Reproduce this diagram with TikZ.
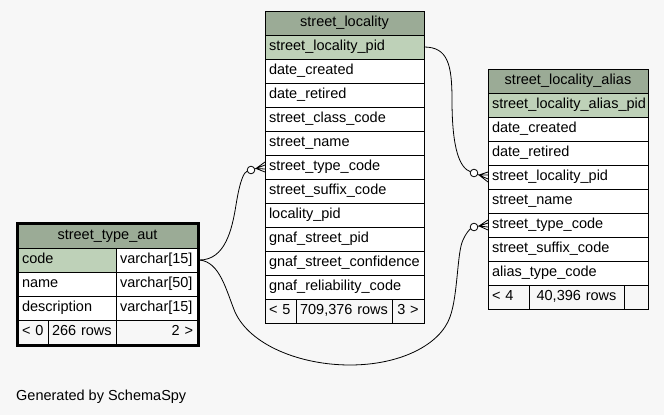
\documentclass[tikz,border=0pt]{standalone}
\usepackage{fontspec}
\setmainfont{Liberation Sans}
\usepackage{tikz}
\usetikzlibrary{calc}
\usetikzlibrary{positioning, fit}
\definecolor{HDR}{HTML}{9BAB96}
\definecolor{KEY}{HTML}{BED1B8}
\definecolor{BKG}{HTML}{F7F7F7}
\tikzset{
  cell/.style={% Style for plain column boxes
      rectangle, line width=1pt,
      anchor=north west,
      align=left,
      minimum height=24pt,
      text height=10pt,
          text depth=4pt,
      inner xsep=4pt, inner ysep=0pt,
      outer sep=0pt,
      fill=white,
      draw=black,
  },
  KEY/.style={cell, fill=KEY},% primary key rows
  COL/.style={cell},
  HDR/.style={cell, fill=HDR, align=center},% table title
  FOOT/.style={cell, fill=BKG},
  link/.style={line width=.8pt},
  dot/.style={circle, draw, line width=.8pt, fill=white, minimum size=7.6pt, inner sep=0pt, outer sep=0pt},
}
\def\entity(#1)#2[#3]#4#5{%
  \begin{scope}[shift={(#1)}]
      \node[HDR, text width=#4] (#2) at (0,0) {#3};
       \foreach \txt/\style [count=\i] in {#5} {% Name/Boxtype for each column
            \node[\style, text width=#4] (#2\i) at (0,{24*\i}) {\txt}; % one box below the other
       }
  \end{scope}
}
\def\crowodot#1#2{% #1 target box, #2 vertical shift of the circle
  \coordinate (#1-t) at ($(#1.west)+(-9,{0.5*#2})$);
  \draw[link] (#1-t) -- ($(#1.west)+(0,-5)$) (#1-t) -- ($(#1.west)+(0,-2)$) (#1-t) -- ($(#1.west)+(0,2)$)
    (#1-t) -- ($(#1.west)+(0,5)$) (#1-t) -- ($(#1.west)+(-14,#2)$);
  \node[dot] (#1-o) at ($(#1.west)+(-14,#2)$) {};
}

\begin{document}
\begin{tikzpicture}[x=1pt, y=-1pt, font=\fontsize{14.5}{17}\selectfont]
    \fill[BKG] (0,0) rectangle (664,415);
    \useasboundingbox (0,0) rectangle (664,415);

    \entity(265,11){sl}[street\_locality]{151pt}{
      street\_locality\_pid/KEY,
      date\_created/COL,
      date\_retired/COL,
      street\_class\_code/COL,
      street\_name/COL,
      street\_type\_code/COL,
      street\_suffix\_code/COL,
      locality\_pid/COL,
      gnaf\_street\_pid/COL,
      gnaf\_street\_confidence/COL,
      gnaf\_reliability\_code/COL}
    \node[FOOT, text width=23pt] (slf1) at (sl11.south west) {< 5};
    \node[FOOT, text width=88pt, align=center] (slf2) at (slf1.north east) {709,376 rows};
    \node[FOOT, text width=24pt, align=center] (slf3) at (slf2.north east) {3 >};

    \entity(488,69){sla}[street\_locality\_alias]{152pt}{
      street\_locality\_alias\_pid/KEY,
      date\_created/COL,
      date\_retired/COL,
      street\_locality\_pid/COL,
      street\_name/COL,
      street\_type\_code/COL,
      street\_suffix\_code/COL,
      alias\_type\_code/COL}
    \node[FOOT, text width=33pt] (slaf1) at (sla8.south west) {< 4};
    \node[FOOT, text width=87pt, align=center] (slaf2) at (slaf1.north east) {40,396 rows};
    \node[FOOT, text width=16pt] (slaf3) at (slaf2.north east) {};

    % street_type_aut has two columns: name and type
    \node[HDR, text width=171pt] (sta) at (18,224) {street\_type\_aut};
    \foreach \txt/\typ/\style [count=\i] in {code/varchar[15]/KEY, name/varchar[50]/COL, description/varchar[15]/COL} {
      \node[\style, text width=90pt] (sta\i) at (18,{224+24*\i}) {\txt};
      \node[COL, text width=73pt] (stt\i) at (sta\i.north east) {\typ};
    }
    \node[FOOT, text width=22pt] (staf1) at (sta3.south west) {< 0};
    \node[FOOT, text width=60pt] (staf2) at (staf1.north east) {266 rows};
    \node[FOOT, text width=73pt, align=right] (staf3) at (staf2.north east) {2 >};
    \node[draw, line width=3pt, inner sep=1pt, fit=(sta)(staf3)] (stbox) {};

    % foreign keys
    \crowodot{sla4}{-4}
    \crowodot{sl6}{3}
    \crowodot{sla6}{2}
    \draw[link] (sl1.east) .. controls (448,47) and (452,65) .. (452,100)
      .. controls (452,150) and (460,168) .. (sla4-o);
    \draw[link] (stbox.east |- stt1.east) .. controls (225,260) and (232,230) .. (236,205)
      .. controls (240,180) and (244,172) .. (sl6-o);
    \draw[link] (stbox.east |- stt1.east) .. controls (220,262) and (226,290) .. (235,312)
      .. controls (250,345) and (300,365) .. (350,365)
      .. controls (400,365) and (440,345) .. (450,317)
      .. controls (458,295) and (457,252) .. (463,240)
      .. controls (466,233) and (470,229) .. (sla6-o);

    \node[anchor=base west, inner sep=0pt] (gen) at (16,400) {Generated by SchemaSpy};
\end{tikzpicture}
\end{document}
